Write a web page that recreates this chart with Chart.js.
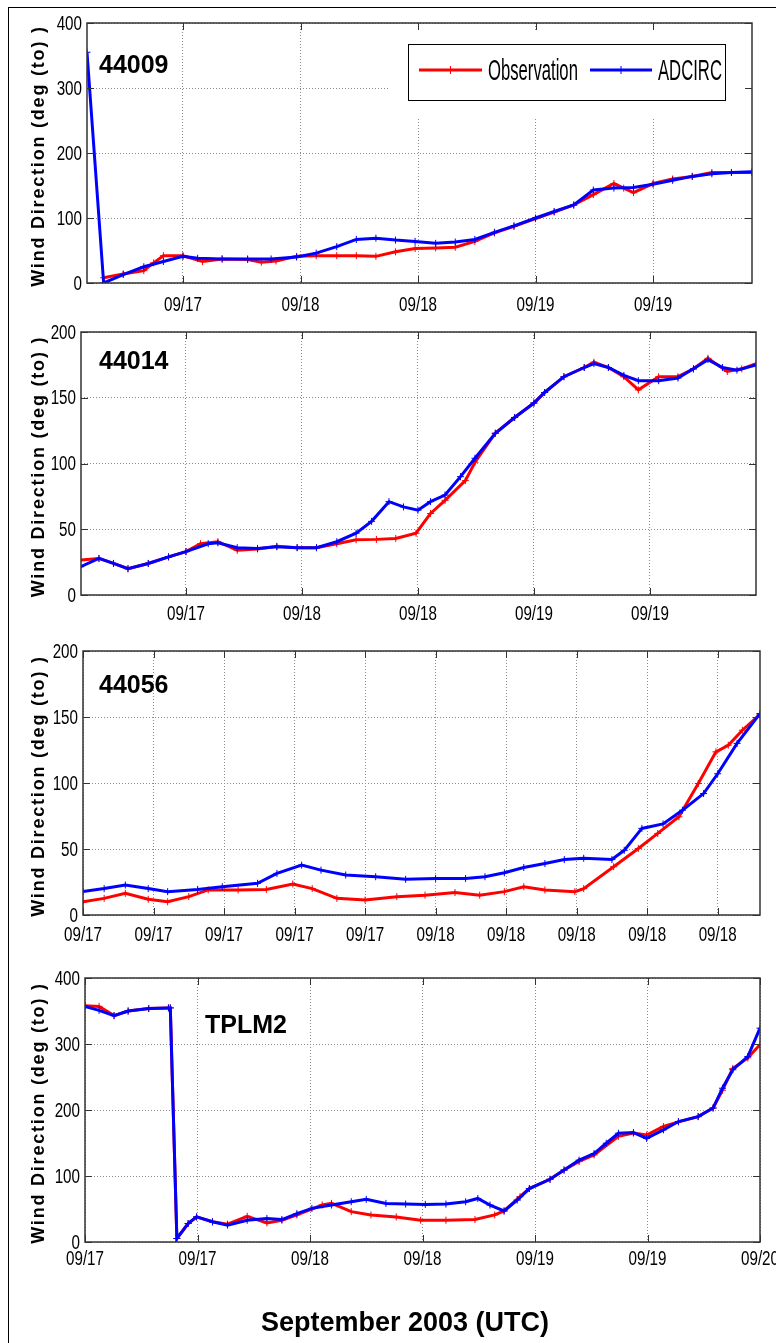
<!DOCTYPE html>
<html>
<head>
<meta charset="utf-8">
<script src="https://cdn.jsdelivr.net/npm/chart.js@4.4.1/dist/chart.umd.min.js"></script>
<style>
  html, body { margin: 0; padding: 0; background: #fff; overflow: hidden; }
  body { width: 776px; height: 1343px; position: relative; }
  canvas { position: absolute; left: 0; top: 0; }
  #frame { position: absolute; left: 8px; top: 7px; width: 790px; height: 1360px;
           border-left: 1px solid #000; border-top: 1px solid #000; }
  #xtitle { position: absolute; left: 261px; top: 1307px; white-space: nowrap; color: #000;
            font: bold 27px "Liberation Sans", Arial, sans-serif; line-height: 30px; }
</style>
</head>
<body>
<div id="frame"></div>
<canvas id="c1" width="776" height="1343"></canvas>
<canvas id="c2" width="776" height="1343"></canvas>
<canvas id="c3" width="776" height="1343"></canvas>
<canvas id="c4" width="776" height="1343"></canvas>
<div id="xtitle">September 2003 (UTC)</div>
<script>
// time axis = hours since 09/17 00:00 UTC
var ticks12 = [12, 24, 36, 48, 60];
var labels12 = ["09/17", "09/18", "09/18", "09/19", "09/19"];
var ticks4h = [4, 8, 12, 16, 20, 24, 28, 32, 36, 40];
var labels4h = ["09/17", "09/17", "09/17", "09/17", "09/17", "09/18", "09/18", "09/18", "09/18", "09/18"];
var ticksTplm = [0, 12, 24, 36, 48, 60, 72];
var labelsTplm = ["09/17", "09/17", "09/18", "09/18", "09/19", "09/19", "09/20"];

// 44009
var t44009Obs = [3.9, 5.9, 8.0, 9.0, 10.0, 12.0, 14.0, 16.0, 18.6, 20.0, 21.5, 23.6, 25.6, 27.7, 29.7, 31.7, 33.7, 35.7, 37.8, 39.8, 41.8, 43.8, 45.8, 48.0, 49.9, 51.9, 53.9, 56.0, 57.0, 58.0, 60.0, 62.0, 64.0, 66.0, 68.0, 70.1];
var obs44009 = [8, 14, 19, 31, 42, 42, 33, 37, 36, 32, 34, 41, 42, 42, 42, 41, 48, 53, 54, 55, 64, 77, 87, 99, 109, 120, 136, 153, 146, 139, 153, 160, 164, 170, 170, 170];
var t44009Mod = [2.2, 3.9, 5.9, 8.0, 10.0, 12.0, 13.5, 16.0, 18.6, 21.0, 23.6, 25.6, 27.7, 29.7, 31.7, 33.7, 35.7, 37.8, 39.8, 41.8, 43.8, 45.8, 48.0, 49.9, 51.9, 53.9, 56.0, 58.0, 60.0, 62.0, 64.0, 66.0, 68.0, 70.1];
var mod44009 = [355, 0, 13, 25, 33, 41, 38, 37, 37, 37, 40, 46, 56, 67, 69, 66, 64, 61, 63, 67, 78, 88, 100, 110, 120, 143, 146, 147, 152, 158, 164, 168, 170, 171];

// 44014
var t44014Obs = [1.1, 3.0, 4.5, 6.0, 8.1, 10.2, 12.0, 13.5, 15.3, 17.3, 19.4, 21.4, 23.5, 25.5, 27.6, 29.6, 31.7, 33.7, 35.8, 37.3, 38.8, 40.9, 41.9, 44.0, 46.0, 48.0, 49.1, 51.1, 53.2, 54.2, 55.7, 57.3, 58.8, 60.9, 62.9, 64.5, 66.0, 68.0, 69.5, 71.0];
var obs44014 = [26.6, 27.8, 24, 20, 24, 29, 33, 39, 40.5, 34, 35, 37, 36, 36, 39, 42, 42.3, 43, 47, 62, 72, 87, 101, 123, 135, 146, 154, 166, 173, 177, 173, 166, 156, 166, 166, 172, 180, 170, 172, 176];
var t44014Mod = [1.1, 3.0, 4.5, 6.0, 8.1, 10.2, 12.0, 14.3, 15.3, 17.3, 19.4, 21.4, 23.5, 25.5, 27.6, 29.6, 31.2, 33.0, 34.5, 36.0, 37.3, 38.8, 40.4, 41.9, 44.0, 46.0, 48.0, 49.1, 51.1, 53.2, 54.2, 55.7, 57.3, 58.8, 60.9, 62.9, 64.5, 66.0, 67.5, 69.0, 71.0];
var mod44014 = [21.5, 27.8, 24, 20, 24, 29, 33, 39, 39.7, 36, 35.4, 36.7, 36, 36, 40.5, 47, 56, 71, 67, 64.5, 71, 76, 90, 104, 123, 135, 146, 154, 166, 173, 176, 173, 167, 163, 163, 165, 172, 179, 173, 171, 175];

// 44056
var t44056Obs = [4.0, 5.2, 6.4, 7.7, 8.8, 10.0, 11.1, 12.8, 14.4, 15.9, 17.0, 18.4, 20.0, 21.8, 23.4, 25.1, 26.5, 27.9, 29.0, 30.2, 31.9, 32.4, 34.1, 35.5, 36.6, 37.8, 38.9, 39.9, 40.6, 41.4, 42.4];
var obs44056 = [10, 12.6, 16.4, 11.9, 10, 13.9, 19, 19, 19.4, 23.5, 20, 12.6, 11.3, 13.9, 15, 17, 15, 17.7, 21.4, 19, 17.7, 20, 36.6, 50.4, 61.8, 74.4, 99.6, 123.6, 128.6, 140, 152];
var t44056Mod = [4.0, 5.2, 6.4, 7.7, 8.8, 10.5, 11.9, 13.9, 15.0, 16.4, 17.5, 18.9, 20.6, 22.3, 24.0, 25.7, 26.8, 27.9, 29.0, 30.2, 31.3, 32.4, 34.0, 34.7, 35.7, 36.9, 38.0, 39.2, 40.0, 41.1, 42.4];
var mod44056 = [17.7, 20, 22.7, 20, 17.7, 19.4, 21.4, 24, 31.5, 37.8, 34, 30.3, 29, 27, 27.7, 27.7, 29, 32, 36, 39, 42, 43, 42, 49, 65.6, 69, 79.4, 92, 107, 130, 152.6];

// TPLM2
var tTplmObs = [0, 1.5, 3.1, 4.6, 6.8, 8.9, 9.1, 9.8, 11.0, 11.9, 13.6, 15.2, 17.3, 19.4, 21.0, 22.6, 25.3, 26.3, 28.4, 30.5, 33.2, 35.8, 38.5, 41.6, 43.7, 44.7, 46.4, 47.4, 49.6, 51.1, 52.7, 54.3, 56.9, 58.5, 59.9, 61.7, 63.3, 65.4, 67.0, 68.0, 69.1, 70.7, 72.0];
var obsTplm = [358, 357, 343, 350, 353.7, 354.7, 354.7, 5.3, 28, 38, 30.6, 27, 39, 29, 33, 41, 56, 58.5, 46, 41, 38, 33, 33, 34, 41, 47, 68.6, 81, 95, 109, 122, 132, 160, 165, 162, 175, 182, 190, 203, 230, 263, 279, 299];
var tTplmMod = [0, 1.5, 3.1, 4.6, 6.8, 8.9, 9.1, 9.8, 11.0, 11.9, 13.6, 15.2, 17.3, 19.4, 21.0, 22.6, 24.2, 26.3, 28.4, 30.0, 32.1, 34.2, 36.3, 38.5, 40.6, 41.9, 43.2, 44.7, 46.1, 47.4, 49.6, 51.1, 52.7, 54.3, 55.6, 56.9, 58.5, 59.9, 61.7, 63.3, 65.4, 67.0, 68.0, 69.1, 70.7, 72.0];
var modTplm = [357, 351, 343, 350, 353.7, 354.7, 354.7, 5.3, 28, 38, 30.6, 25.6, 33, 35.7, 34, 43, 51, 56, 61, 64.6, 58.5, 57.5, 57, 57.5, 61, 66, 56, 47, 63.5, 81, 95, 109, 124, 134, 149.6, 164.8, 165.8, 157, 170, 182.5, 190, 203, 233, 261, 281, 324];

var yTitle = "Wind Direction (deg (to) )";
var tickFont = "20px 'Liberation Sans', Arial, sans-serif";
var tickSqueeze = 0.76;

function pts(t, v) {
  return t.map(function (x, i) { return { x: x, y: v[i] }; });
}

function series(label, color, t, v, order) {
  return {
    label: label, data: pts(t, v), order: order,
    borderColor: color, backgroundColor: color, borderWidth: 3,
    pointStyle: "cross", pointRadius: 3.5, pointBorderWidth: 1,
    pointBorderColor: color, tension: 0
  };
}

// squeezed text, like the condensed matlab labels
function narrowText(ctx, txt, x, y, sx, align, base) {
  ctx.save();
  ctx.translate(x, y);
  ctx.scale(sx, 1);
  ctx.textAlign = align;
  ctx.textBaseline = base;
  ctx.fillText(txt, 0, 0);
  ctx.restore();
}

function drawLegend(chart) {
  var ctx = chart.ctx;
  var ds = chart.data.datasets;
  ctx.save();
  ctx.fillStyle = "#fff";
  ctx.fillRect(408, 44, 317, 56);
  ctx.strokeStyle = "#000";
  ctx.lineWidth = 1;
  ctx.strokeRect(408.5, 44.5, 317, 56);
  var items = [[419, 482, 488], [590, 652, 658]];
  items.forEach(function (it, i) {
    var c = ds[i].borderColor;
    ctx.strokeStyle = c;
    ctx.lineWidth = 3;
    ctx.beginPath(); ctx.moveTo(it[0], 70); ctx.lineTo(it[1], 70); ctx.stroke();
    var m = (it[0] + it[1]) / 2;
    ctx.lineWidth = 1;
    ctx.beginPath(); ctx.moveTo(m, 66); ctx.lineTo(m, 74); ctx.stroke();
    ctx.fillStyle = "#000";
    ctx.font = "29px 'Liberation Sans', Arial, sans-serif";
    narrowText(ctx, ds[i].label, it[2], 72, 0.575, "left", "middle");
  });
  ctx.restore();
}

function deco(p) {
  return {
    id: "deco",
    beforeDatasetsDraw: function (chart) {
      if (!p.legend) return;
      var ctx = chart.ctx;
      ctx.save();
      ctx.fillStyle = "#fff";
      ctx.fillRect(389, 30, 356, 87);
      ctx.restore();
    },
    afterDraw: function (chart) {
      var ctx = chart.ctx, a = chart.chartArea;
      var xs = chart.scales.x, ys = chart.scales.y;
      ctx.save();
      // inward tick marks on all four sides
      ctx.strokeStyle = "#333";
      ctx.lineWidth = 1;
      ctx.beginPath();
      xs.ticks.forEach(function (t) {
        var x = Math.round(xs.getPixelForValue(t.value)) + 0.5;
        ctx.moveTo(x, a.bottom); ctx.lineTo(x, a.bottom - 7);
        ctx.moveTo(x, a.top); ctx.lineTo(x, a.top + 7);
      });
      ys.ticks.forEach(function (t) {
        var y = Math.round(ys.getPixelForValue(t.value)) + 0.5;
        ctx.moveTo(a.left, y); ctx.lineTo(a.left + 7, y);
        ctx.moveTo(a.right, y); ctx.lineTo(a.right - 7, y);
      });
      ctx.stroke();
      ctx.lineWidth = 1.5;
      ctx.strokeRect(a.left, a.top, a.right - a.left, a.bottom - a.top);

      // tick labels from the scales
      ctx.fillStyle = "#000";
      ctx.font = tickFont;
      xs.ticks.forEach(function (t) {
        narrowText(ctx, t.label, xs.getPixelForValue(t.value), a.bottom + p.xpad, tickSqueeze, "center", "top");
      });
      ys.ticks.forEach(function (t) {
        narrowText(ctx, t.label, a.left - 5, ys.getPixelForValue(t.value) + 1, tickSqueeze, "right", "middle");
      });

      ctx.font = "bold 25px 'Liberation Sans', Arial, sans-serif";
      ctx.textBaseline = "alphabetic";
      ctx.textAlign = "left";
      ctx.fillText(p.name, p.namePos[0], p.namePos[1]);

      ctx.save();
      ctx.translate(39, (a.top + a.bottom) / 2 + 3);
      ctx.rotate(-Math.PI / 2);
      ctx.font = "bold 18px 'Liberation Sans', Arial, sans-serif";
      if ("letterSpacing" in ctx) ctx.letterSpacing = "1.8px";
      ctx.textAlign = "center";
      ctx.textBaseline = "middle";
      ctx.fillText(yTitle, 0, 0);
      ctx.restore();

      if (p.legend) drawLegend(chart);
      ctx.restore();
    }
  };
}

function panel(id, p) {
  var box = p.box;
  var gridOpts = { color: "#8c8c8c", lineWidth: 1, drawTicks: false };
  var borderOpts = { display: false, dash: [1, 2] };
  return new Chart(document.getElementById(id), {
    type: "line",
    data: {
      datasets: [
        series("Observation", "#ff0000", p.tObs, p.obs, 1),
        series("ADCIRC", "#0000ff", p.tMod, p.mod, 0)
      ]
    },
    options: {
      responsive: false,
      animation: false,
      layout: { padding: { left: box[0] - 40, top: box[1], right: 776 - box[2], bottom: 1343 - box[3] - 40 } },
      plugins: { legend: { display: false }, tooltip: { enabled: false } },
      scales: {
        x: {
          type: "linear", min: p.xmin, max: p.xmax,
          afterBuildTicks: function (s) { s.ticks = p.ticks.map(function (v) { return { value: v }; }); },
          afterFit: function (s) { s.height = 40; s.paddingLeft = 0; s.paddingRight = 0; },
          ticks: {
            display: false, autoSkip: false, maxRotation: 0,
            callback: function (v, i) { return p.labels[i]; }
          },
          grid: gridOpts, border: borderOpts
        },
        y: {
          min: 0, max: p.ymax,
          afterFit: function (s) { s.width = 40; s.paddingTop = 0; s.paddingBottom = 0; },
          ticks: { display: false, stepSize: p.ystep },
          grid: gridOpts, border: borderOpts
        }
      }
    },
    plugins: [deco(p)]
  });
}

panel("c1", {
  box: [87, 23, 752, 283], xmin: 2.2, xmax: 70.1, ticks: ticks12, labels: labels12, xpad: 12,
  ymax: 400, ystep: 100, name: "44009", namePos: [99, 73], legend: true,
  tObs: t44009Obs, obs: obs44009, tMod: t44009Mod, mod: mod44009
});
panel("c2", {
  box: [81, 332, 756, 595], xmin: 1.14, xmax: 70.97, ticks: ticks12, labels: labels12, xpad: 9,
  ymax: 200, ystep: 50, name: "44014", namePos: [99, 369],
  tObs: t44014Obs, obs: obs44014, tMod: t44014Mod, mod: mod44014
});
panel("c3", {
  box: [83, 651, 760, 915], xmin: 4, xmax: 42.4, ticks: ticks4h, labels: labels4h, xpad: 10,
  ymax: 200, ystep: 50, name: "44056", namePos: [99, 693],
  tObs: t44056Obs, obs: obs44056, tMod: t44056Mod, mod: mod44056
});
panel("c4", {
  box: [85, 978, 760, 1242], xmin: 0, xmax: 72, ticks: ticksTplm, labels: labelsTplm, xpad: 7,
  ymax: 400, ystep: 100, name: "TPLM2", namePos: [205, 1033],
  tObs: tTplmObs, obs: obsTplm, tMod: tTplmMod, mod: modTplm
});
</script>
</body>
</html>
